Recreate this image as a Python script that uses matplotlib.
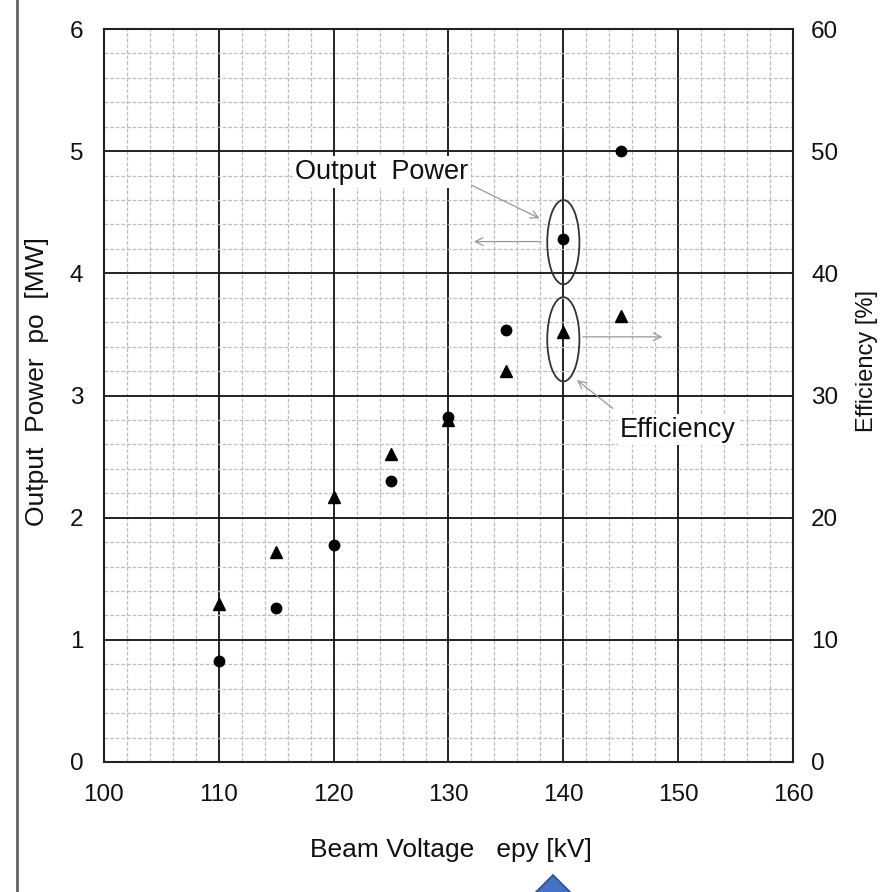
import matplotlib
matplotlib.use("Agg")
import matplotlib.pyplot as plt
from matplotlib.patches import Ellipse, Polygon
from matplotlib.lines import Line2D
from matplotlib.ticker import MultipleLocator

plt.rcParams["font.family"] = ["Liberation Sans", "DejaVu Sans"]

# data
beam_voltage = [110, 115, 120, 125, 130, 135, 140, 145]
output_power = [0.83, 1.26, 1.78, 2.30, 2.82, 3.54, 4.28, 5.00]   # MW
efficiency = [12.9, 17.2, 21.7, 25.2, 28.0, 32.0, 35.2, 36.5]     # %

x_ticks = [100, 110, 120, 130, 140, 150, 160]
y_ticks = [0, 1, 2, 3, 4, 5, 6]
y2_ticks = [0, 10, 20, 30, 40, 50, 60]

W, H = 894, 892
fig = plt.figure(figsize=(W / 100, H / 100), dpi=100)
ax = fig.add_axes([104 / W, 1 - 762 / H, 689 / W, 733 / H])

ax.set_xlim(100, 160)
ax.set_ylim(0, 6)
ax.set_xticks(x_ticks)
ax.set_yticks(y_ticks)
ax.xaxis.set_minor_locator(MultipleLocator(2))
ax.yaxis.set_minor_locator(MultipleLocator(0.2))
ax.grid(which="minor", color="#bdbdbd", linestyle=(0, (3, 1.5)), linewidth=0.9)
ax.grid(which="major", color="#111111", linestyle="-", linewidth=1.3)
ax.set_axisbelow(True)
for s in ax.spines.values():
    s.set_color("#222222")
    s.set_linewidth(1.5)
ax.tick_params(which="both", length=0)
ax.tick_params(axis="y", pad=15, labelsize=17.5, colors="#111111")
ax.tick_params(axis="x", pad=16, labelsize=17.5, colors="#111111")

ax2 = ax.twinx()
ax2.set_ylim(0, 60)
ax2.set_yticks(y2_ticks)
ax2.tick_params(length=0, pad=13, labelsize=17.5, colors="#111111")
for s in ax2.spines.values():
    s.set_visible(False)

# highlight ellipses around the 140 kV points
ax.add_patch(Ellipse((140, 4.255), 2.8, 0.69, fill=False, ec="#333333", lw=1.3, zorder=3))
ax.add_patch(Ellipse((140, 3.46), 2.8, 0.69, fill=False, ec="#333333", lw=1.3, zorder=3))

arrow = dict(arrowstyle="->", color="#999999", lw=0.9, mutation_scale=14)
ax.annotate("", xy=(131.97, 4.26), xytext=(138.3, 4.26), arrowprops=arrow)
ax.annotate("", xy=(148.87, 3.48), xytext=(141.46, 3.48), arrowprops=arrow)
ax.annotate("", xy=(138.15, 4.44), xytext=(131.6, 4.74), arrowprops=arrow)
ax.annotate("", xy=(141.0, 3.14), xytext=(144.5, 2.88), arrowprops=arrow)

box = dict(facecolor="white", edgecolor="none", pad=2)
ax.text(124.2, 4.83, "Output  Power", fontsize=19.5, ha="center", va="center",
        color="#111111", bbox=box, zorder=4)
ax.text(150.0, 2.72, "Efficiency", fontsize=19.5, ha="center", va="center",
        color="#111111", bbox=box, zorder=4)

ax.plot(beam_voltage, output_power, "o", color="black", markersize=7.5, zorder=5)
ax2.plot(beam_voltage, efficiency, "^", color="black", markersize=8, zorder=5)

fig.text(37 / W, 1 - 382 / H, "Output  Power  po  [MW]", rotation=90, fontsize=19,
         ha="center", va="center", color="#111111")
fig.text(867 / W, 1 - 361 / H, "Efficiency [%]", rotation=90, fontsize=17,
         ha="center", va="center", color="#111111")
fig.text(451 / W, 1 - 850 / H, "Beam Voltage   epy [kV]", fontsize=19,
         ha="center", va="center", color="#111111")

# slide decorations: left border and blue arrow tip at the bottom
fig.add_artist(Line2D([17 / W, 17 / W], [0, 1], transform=fig.transFigure,
                      color="#666666", lw=2))
fig.add_artist(Polygon([(553 / W, 1 - 875 / H), (526 / W, 1 - 902 / H), (580 / W, 1 - 902 / H)],
                       closed=True, transform=fig.transFigure,
                       facecolor="#4472C4", edgecolor="#2F528F", lw=1.2))

fig.savefig("out.png", dpi=100)
